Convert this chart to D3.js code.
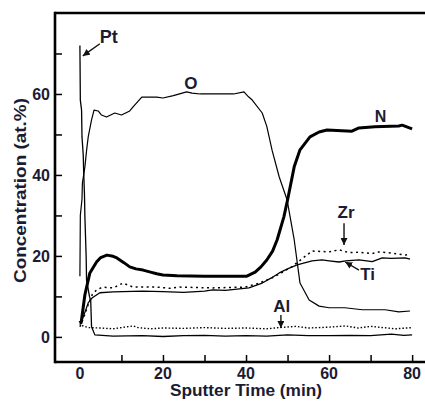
<!DOCTYPE html>
<html><head><meta charset="utf-8">
<script src="https://cdn.jsdelivr.net/npm/d3@7"></script>
<style>html,body{margin:0;padding:0;background:#fff;overflow:hidden}</style>
</head><body>
<script>
// ---- data (time in min, concentration in at.%) ----
const ptData = [[0,72],[0.1,58.5],[0.4,56],[0.5,49.4],[0.8,45],[0.9,41],[1.1,35],[1.2,29.6],[1.5,20],[1.6,14],[2.3,10],[2.6,9],[2.8,2.5],[3.6,0.5],[8,0.2],[15,0.3],[20,0.1],[25,0.3],[30,0.4],[35,0.2],[40,0.3],[45,0.2],[50,0.5],[55,0.3],[60,0.3],[65,0.4],[70,0.3],[75,0.7],[78,0.4],[80,0.5]];
const oData = [[0,15],[0.1,30],[0.5,34],[0.6,38],[1.2,42],[1.6,46],[2,49.4],[2.8,53.6],[3.4,56],[4.4,55.8],[5.2,54.8],[6.4,54.3],[8.4,55.3],[10,54.8],[12,55.8],[12.8,56.8],[14.9,59.2],[18.5,59.2],[20,59],[22.5,59.6],[25.7,60.5],[27,60.2],[29,60],[33.5,60],[37,60],[39.5,60.5],[40.6,59.3],[41.5,58.5],[43.9,55.3],[45,52],[46.3,46],[48,39.5],[49.9,33.8],[51.6,24],[53,13.3],[55.2,9.1],[57.6,7.6],[60,7.2],[63.8,7.2],[68,6.7],[73.5,6.7],[76.8,6.2],[79.5,6.4]];
const nData = [[0,4],[0.3,3.5],[1.2,10.4],[2.4,15.8],[4,18.5],[5,19.6],[6.5,20.2],[8,19.9],[8.9,19.5],[10.5,18.4],[12,17.3],[13.5,16.8],[15.2,16.5],[17,16],[18.5,15.6],[20,15.3],[23.4,15.1],[30,15],[35,15],[40.2,15],[42.2,16],[43.6,17.3],[45,19],[46.4,21.2],[47.5,24],[49.1,29.6],[50,33.8],[51.6,42],[53,46.2],[55.4,49.4],[57.6,50.6],[59.5,51.1],[65.5,50.8],[67.2,51.6],[71,51.9],[76.8,52.1],[77.6,52.3],[80,51.4]];
const tiData = [[0,3],[1,5.5],[2,8.4],[2.9,9.6],[4.8,10.9],[8,11.1],[15,11.3],[20,11.2],[25,11],[30,11.3],[32,11.6],[35,11.5],[40.7,12.1],[43.9,13.3],[46,14.5],[48,15.8],[50,16.8],[52.3,17.8],[55.9,18.8],[58.3,19],[60,18.8],[62.4,18.5],[64,18.8],[67.2,19],[70.4,18.6],[72.8,19.5],[75,19.4],[78.3,19.5],[79.5,19.2]];
const zrData = [[0,2.5],[1,5],[2,8],[3,10.5],[4,11.6],[5.5,12.3],[8,12.1],[10.4,13.3],[12.8,12.3],[15,12.3],[18.5,12.3],[21.7,12],[24,12.3],[28,12.2],[32,12.1],[36,12.2],[39.8,12.3],[43,13.2],[46.3,14.6],[48.5,15.8],[51,17.3],[53.5,19.3],[55.9,21.2],[60,21],[62.4,21.5],[64.8,20.8],[67,20.9],[70.4,20.6],[72,21],[75.2,20.7],[78.3,20.2],[79.5,20.5]];
const alData = [[0.5,2.8],[2,2.3],[5,2.2],[8,2.0],[10,2.3],[12.8,2.7],[14,2.3],[17,2.0],[20,2.2],[25,2.1],[30,2.3],[35,2.1],[40,2.2],[45,2.0],[48,2.3],[52,2.6],[55,2.2],[60,2.4],[64,2.7],[67,2.2],[70,2.6],[73,2.3],[76,2.0],[80,2.3]];
const xTickLabels = [0,20,40,60,80];
const xMinorTicks = [10,20,30,40,50,60,70,80];
const yTickLabels = [0,20,40,60];
const yMinorTicks = [0,10,20,30,40,50,60,70];
const labelNames = ["Pt","O","N","Zr","Ti","Al"];

// ---- layout ----
const W = 425, H = 401;
const L = 55, R = 425, T = 13, B = 362;
const ink = "#1b1b33";
const svg = d3.select("body").append("svg").attr("width", W).attr("height", H)
  .style("font-family","'Liberation Sans', Arial, sans-serif");
const x = d3.scaleLinear().domain([-6, 83.1]).range([L, R]);
const y = d3.scaleLinear().domain([-6.2, 80]).range([B, T]);

svg.append("defs").append("marker").attr("id","arr").attr("viewBox","0 0 10 10")
  .attr("refX",10).attr("refY",5).attr("markerWidth",7).attr("markerHeight",7)
  .attr("markerUnits","userSpaceOnUse").attr("orient","auto")
  .append("path").attr("d","M0,0 L10,5 L0,10 z").attr("fill","#111");

// axes with inward ticks
const gx = svg.append("g").attr("transform",`translate(0,${B})`)
  .call(d3.axisTop(x).tickValues(xMinorTicks).tickSize(7).tickFormat(""));
gx.select(".domain").remove();
gx.selectAll("line").attr("stroke","#000").attr("stroke-width",1.5);
const gy = svg.append("g").attr("transform",`translate(${L},0)`)
  .call(d3.axisRight(y).tickValues(yMinorTicks).tickSize(7).tickFormat(""));
gy.select(".domain").remove();
gy.selectAll("line").attr("stroke","#000").attr("stroke-width",1.5);

svg.selectAll(".xl").data(xTickLabels).enter().append("text")
  .attr("x", d => x(d)).attr("y", 379).attr("text-anchor","middle")
  .attr("font-size",16).attr("font-weight","bold").attr("fill",ink).text(d => d);
svg.selectAll(".yl").data(yTickLabels).enter().append("text")
  .attr("x", 50).attr("y", d => y(d) + 6).attr("text-anchor","end")
  .attr("font-size",16).attr("font-weight","bold").attr("fill",ink).text(d => d);

// frame lines
svg.append("line").attr("x1",L).attr("x2",R).attr("y1",T).attr("y2",T).attr("stroke","#000").attr("stroke-width",2.4);
svg.append("line").attr("x1",L).attr("x2",R).attr("y1",B).attr("y2",B).attr("stroke","#000").attr("stroke-width",2.4);
svg.append("line").attr("x1",L).attr("x2",L).attr("y1",T-1.2).attr("y2",B+1.2).attr("stroke","#000").attr("stroke-width",2.6);

// axis titles
svg.append("text").attr("transform","translate(26,190.5) rotate(-90)").attr("text-anchor","middle")
  .attr("font-size",17).attr("font-weight","bold").attr("fill",ink)
  .attr("textLength",185).attr("lengthAdjust","spacingAndGlyphs").text("Concentration (at.%)");
svg.append("text").attr("x",246).attr("y",396).attr("text-anchor","middle")
  .attr("font-size",17).attr("font-weight","bold").attr("fill",ink)
  .attr("textLength",152).attr("lengthAdjust","spacingAndGlyphs").text("Sputter Time (min)");

// curves
const line = d3.line().x(d => x(d[0])).y(d => y(d[1]));
const series = [
  {data: oData, w: 1.2, dash: null},
  {data: ptData, w: 1.3, dash: null},
  {data: tiData, w: 1.3, dash: null},
  {data: zrData, w: 1.5, dash: "2,3.5"},
  {data: alData, w: 1.4, dash: "1.5,2"},
  {data: nData, w: 3, dash: null}
];
svg.selectAll(".curve").data(series).enter().append("path")
  .attr("d", d => line(d.data)).attr("fill","none").attr("stroke","#000")
  .attr("stroke-width", d => d.w).attr("stroke-dasharray", d => d.dash)
  .attr("stroke-linejoin","round");

// annotations
const ann = [
  {t: 4.8, v: 72.6, anchor: "start", size: 18, arrow: [[4.8,72.4],[0.7,69.4]]},
  {t: 26.7, v: 61.2, anchor: "middle", size: 17, arrow: null},
  {t: 72.4, v: 53.1, anchor: "middle", size: 16, arrow: null},
  {t: 64.1, v: 29.4, anchor: "middle", size: 17, arrow: [[63.6,28.1],[63.6,22.7]]},
  {t: 69.3, v: 14.1, anchor: "middle", size: 17, arrow: [[67.2,16.5],[63.9,18.5]]},
  {t: 48.6, v: 6.2, anchor: "middle", size: 17, arrow: [[48.4,5.4],[48.4,2.2]]}
];
ann.forEach((a, i) => {
  svg.append("text").attr("x", x(a.t)).attr("y", y(a.v)).attr("text-anchor", a.anchor)
    .attr("font-size", a.size).attr("font-weight","bold").attr("fill", ink).text(labelNames[i]);
  if (a.arrow) {
    svg.append("line").attr("x1", x(a.arrow[0][0])).attr("y1", y(a.arrow[0][1]))
      .attr("x2", x(a.arrow[1][0])).attr("y2", y(a.arrow[1][1]))
      .attr("stroke","#111").attr("stroke-width",1.4).attr("marker-end","url(#arr)");
  }
});
</script>
</body></html>
